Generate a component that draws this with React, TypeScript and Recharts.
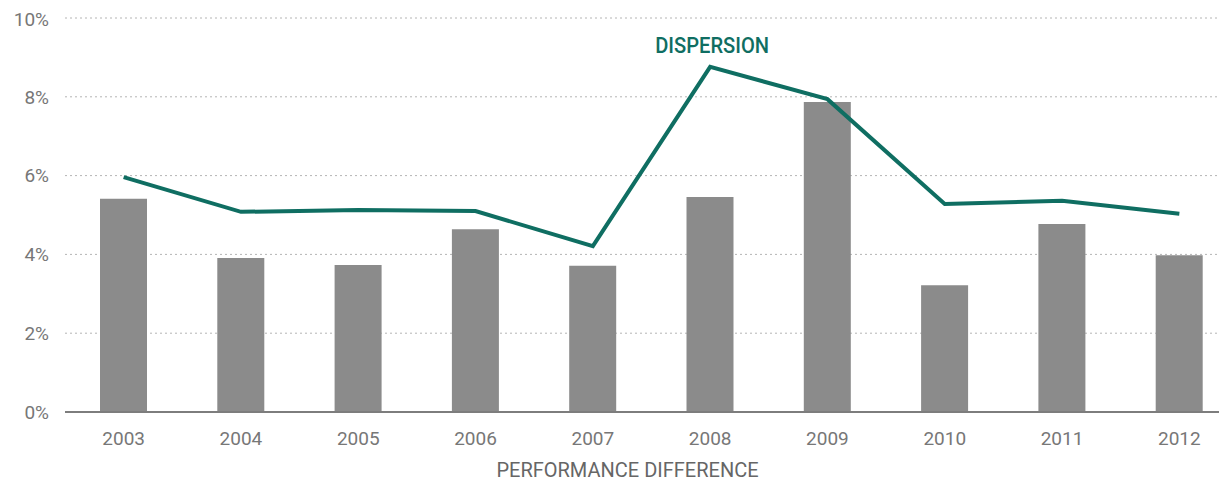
import React from "react";
import {
  ComposedChart,
  Bar,
  Line,
  XAxis,
  YAxis,
  CartesianGrid,
  LabelList,
} from "recharts";

const years = ["2003", "2004", "2005", "2006", "2007", "2008", "2009", "2010", "2011", "2012"];
const performanceDiff = [5.41, 3.91, 3.73, 4.64, 3.71, 5.46, 7.87, 3.22, 4.77, 3.98];
const dispersion = [5.96, 5.08, 5.13, 5.1, 4.21, 8.76, 7.94, 5.28, 5.36, 5.03];
const yTicks = [0, 2, 4, 6, 8, 10];

const data = years.map((year, i) => ({
  year,
  performance: performanceDiff[i],
  dispersion: dispersion[i],
}));

const FONT = "Roboto, 'DejaVu Sans', sans-serif";
const TEAL = "#0f6e62";

// only the 2008 peak carries the series name
function DispersionLabel(props: any) {
  const { x, y, index } = props;
  if (index !== 5) return null;
  return (
    <text
      x={x + 2}
      y={y - 14}
      textAnchor="middle"
      fill={TEAL}
      fontFamily={FONT}
      fontSize={22}
      fontWeight={500}
      textLength={114}
      lengthAdjust="spacingAndGlyphs"
    >
      DISPERSION
    </text>
  );
}

export default function App() {
  return (
    <div style={{ width: 1219, height: 474, overflow: "hidden" }}>
      <ComposedChart
        width={1232}
        height={474}
        data={data}
        margin={{ top: 10, right: 2, bottom: 0, left: 0 }}
      >
        <CartesianGrid
          vertical={false}
          stroke="#b4b4b4"
          strokeDasharray="2 3"
        />
        <XAxis
          dataKey="year"
          height={70}
          tickLine={false}
          tickSize={0}
          tickMargin={20}
          axisLine={{ stroke: "#7d7d7d", strokeWidth: 2 }}
          tick={{ fill: "#777", fontSize: 19, fontFamily: FONT }}
          label={{
            value: "PERFORMANCE DIFFERENCE",
            position: "insideBottom",
            offset: 5,
            dx: -24,
            fill: "#666",
            fontSize: 20,
            fontFamily: FONT,
          }}
        />
        <YAxis
          width={57}
          domain={[0, 10]}
          ticks={yTicks}
          tickFormatter={(v: number) => `${v}%`}
          axisLine={false}
          tickLine={false}
          tickSize={0}
          tickMargin={16}
          tick={{ fill: "#777", fontSize: 19, fontFamily: FONT }}
        />
        <Bar dataKey="performance" fill="#8b8b8b" barSize={47} isAnimationActive={false} />
        <Line
          type="linear"
          dataKey="dispersion"
          stroke={TEAL}
          strokeWidth={4}
          dot={false}
          activeDot={false}
          isAnimationActive={false}
        >
          <LabelList dataKey="dispersion" content={DispersionLabel} />
        </Line>
      </ComposedChart>
    </div>
  );
}
